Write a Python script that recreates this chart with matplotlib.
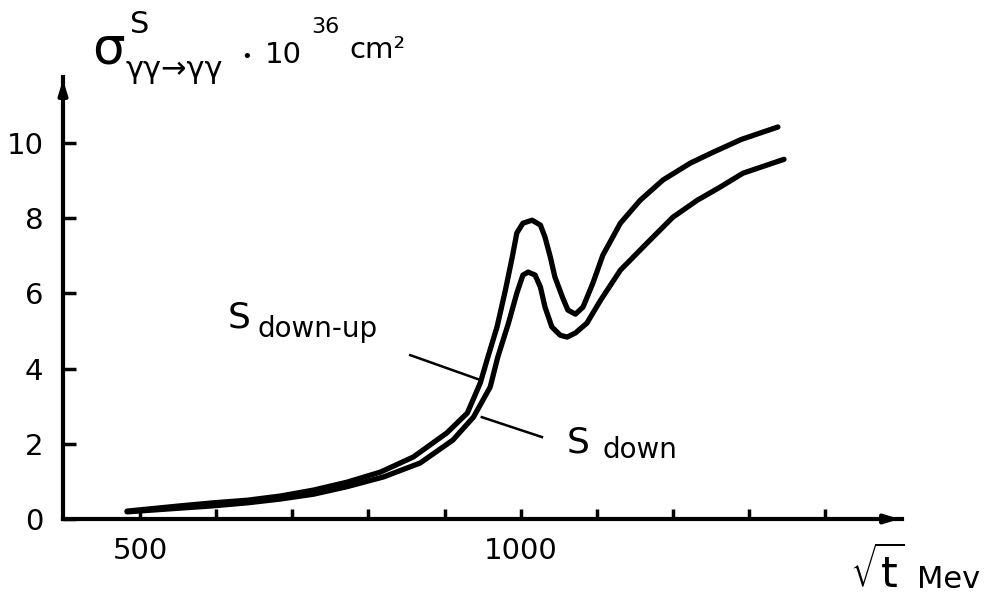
import matplotlib
matplotlib.use("Agg")
import matplotlib.pyplot as plt

# ---- data ----
x_up = [483, 553, 596, 641, 684, 728, 772, 816, 859, 903, 930, 947, 957, 969, 980, 989, 995,
        1003, 1015, 1026, 1032, 1039, 1045, 1055, 1062, 1072, 1082, 1095, 1108, 1131, 1157,
        1187, 1223, 1253, 1290, 1338]
y_up = [0.21, 0.35, 0.43, 0.50, 0.61, 0.77, 0.98, 1.25, 1.65, 2.29, 2.82, 3.62, 4.31, 5.11, 6.09, 6.97, 7.61,
        7.87, 7.95, 7.82, 7.50, 6.97, 6.44, 5.90, 5.56, 5.45, 5.64, 6.28, 7.02, 7.87, 8.48,
        9.02, 9.47, 9.76, 10.10, 10.43]

x_dn = [483, 553, 596, 641, 684, 728, 772, 820, 868, 911, 938, 960, 970, 984, 995,
        1003, 1010, 1019, 1026, 1032, 1041, 1052, 1061, 1072, 1087, 1105, 1131, 1166,
        1200, 1232, 1262, 1292, 1346]
y_dn = [0.19, 0.29, 0.35, 0.43, 0.53, 0.66, 0.86, 1.12, 1.49, 2.10, 2.71, 3.51, 4.31, 5.21, 6.01,
        6.49, 6.57, 6.49, 6.17, 5.64, 5.11, 4.89, 4.84, 4.95, 5.21, 5.82, 6.62, 7.34,
        8.03, 8.48, 8.83, 9.20, 9.57]

x_ticks = [500, 600, 700, 800, 900, 1000, 1100, 1200, 1300, 1400]
x_ticklabels = ["500", "", "", "", "", "1000", "", "", "", ""]
y_ticks = [0, 2, 4, 6, 8, 10]
y_ticklabels = ["0", "2", "4", "6", "8", "10"]

W, H = 988, 596
fig = plt.figure(figsize=(W / 100, H / 100), dpi=100)
fig.patch.set_facecolor("white")

def fx(px):
    return px / W

def fy(py):
    return 1 - py / H

ax = fig.add_axes([fx(63), fy(519), fx(902) - fx(63), (519 - 77) / H])
ax.set_xlim(398.8, 1501)
ax.set_ylim(0, 11.76)

for s in ["top", "right"]:
    ax.spines[s].set_visible(False)
for s in ["left", "bottom"]:
    ax.spines[s].set_linewidth(3)
    ax.spines[s].set_color("black")

ax.plot(x_up, y_up, color="black", lw=3.8, solid_joinstyle="round", solid_capstyle="round")
ax.plot(x_dn, y_dn, color="black", lw=3.8, solid_joinstyle="round", solid_capstyle="round")

# arrows at axis ends
ax.annotate("", xy=(1, 0), xycoords="axes fraction", xytext=(0.97, 0),
            arrowprops=dict(arrowstyle="-|>,head_length=0.8,head_width=0.25", color="black", lw=3))
ax.annotate("", xy=(0, 1), xycoords="axes fraction", xytext=(0, 0.95),
            arrowprops=dict(arrowstyle="-|>,head_length=0.8,head_width=0.25", color="black", lw=3))

ax.set_xticks(x_ticks)
ax.set_xticklabels(x_ticklabels)
ax.set_yticks(y_ticks)
ax.set_yticklabels(y_ticklabels)
ax.tick_params(axis="x", direction="in", length=7, width=2.5, pad=13, labelsize=21)
ax.tick_params(axis="y", direction="in", length=9, width=2.5, pad=14, labelsize=21)

# curve labels
ax.text(615, 5.1, "S", fontsize=26, ha="left", va="baseline")
ax.text(654, 4.84, "down-up", fontsize=20, ha="left", va="baseline")
ax.plot([855, 944], [4.36, 3.72], color="black", lw=1.8)
ax.text(1061, 1.78, "S", fontsize=26, ha="left", va="baseline")
ax.text(1108, 1.62, "down", fontsize=20, ha="left", va="baseline")
ax.plot([949, 1028], [2.71, 2.18], color="black", lw=1.8)

# y-axis title
fig.text(fx(92), fy(63), "σ", fontsize=37, ha="left", va="baseline")
fig.text(fx(130), fy(33), "S", fontsize=22, ha="left", va="baseline")
fig.text(fx(126), fy(78), "γγ→γγ", fontsize=22, ha="left", va="baseline")
fig.text(fx(247), fy(57), "•", fontsize=13, ha="center", va="center")
fig.text(fx(265), fy(63), "10", fontsize=21, ha="left", va="baseline")
fig.text(fx(311), fy(33), "36", fontsize=16, ha="left", va="baseline")
fig.text(fx(349), fy(58), "cm²", fontsize=21, ha="left", va="baseline")

# x-axis title
fig.text(fx(850), fy(588), r"$\sqrt{\mathrm{t}}$", fontsize=31, ha="left", va="baseline")
fig.text(fx(917), fy(588), "Mev", fontsize=22, ha="left", va="baseline")

fig.savefig("out.png", dpi=100, facecolor="white")
